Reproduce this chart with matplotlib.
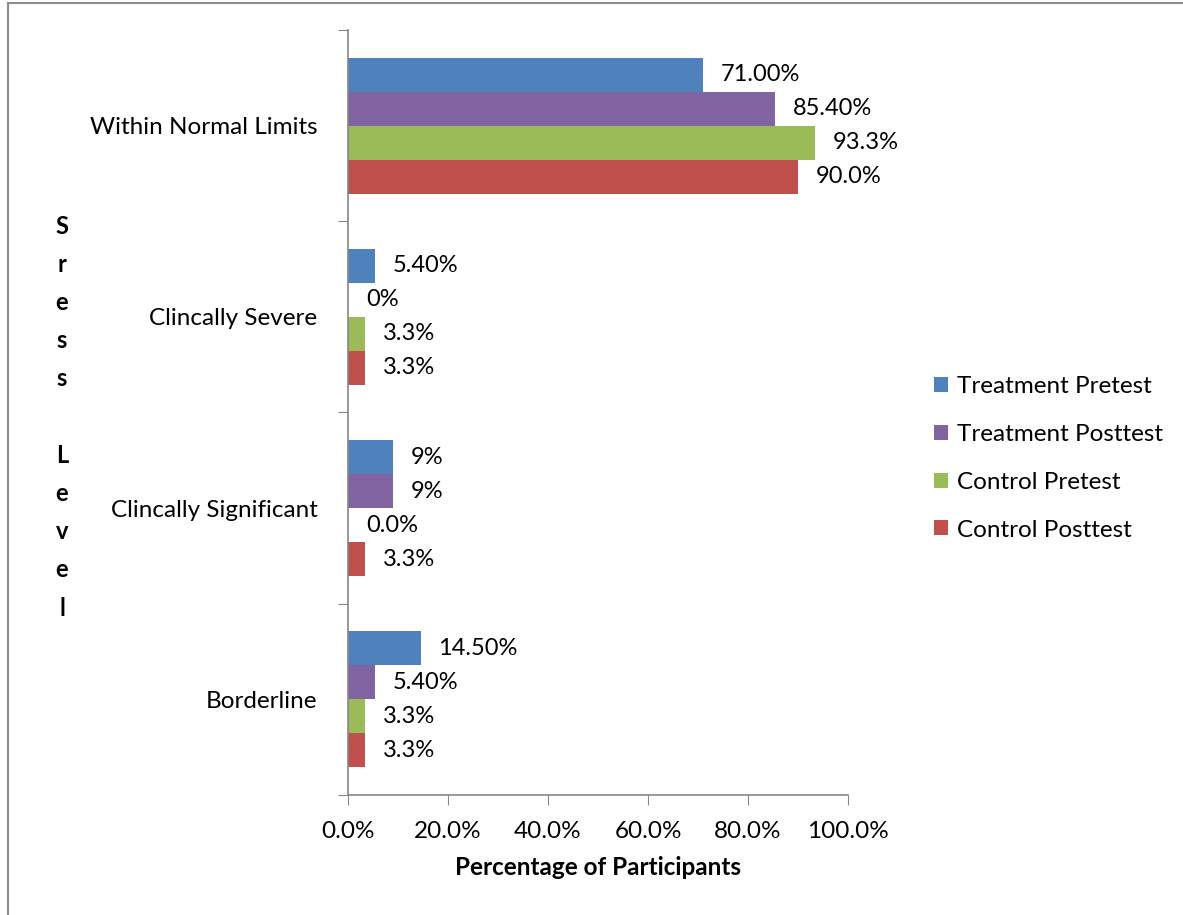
import numpy as np
import matplotlib
matplotlib.use("Agg")
import matplotlib.pyplot as plt
from matplotlib.lines import Line2D
from matplotlib.ticker import FuncFormatter

plt.rcParams['font.family'] = ['Lato', 'DejaVu Sans']

# Stress level categories, top to bottom
categories = ["Within Normal Limits", "Clincally Severe", "Clincally Significant", "Borderline"]
series = ["Treatment Pretest", "Treatment Posttest", "Control Pretest", "Control Posttest"]
colors = ["#4F81BD", "#8064A2", "#9BBB59", "#C0504D"]

# percentages per series, same order as categories
treat_pre = [71.0, 5.4, 9.0, 14.5]
treat_post = [85.4, 0.0, 9.0, 5.4]
ctrl_pre = [93.3, 3.3, 0.0, 3.3]
ctrl_post = [90.0, 3.3, 3.3, 3.3]

# label text as printed next to each bar
treat_pre_lbl = ["71.00%", "5.40%", "9%", "14.50%"]
treat_post_lbl = ["85.40%", "0%", "9%", "5.40%"]
ctrl_pre_lbl = ["93.3%", "3.3%", "0.0%", "3.3%"]
ctrl_post_lbl = ["90.0%", "3.3%", "3.3%", "3.3%"]

values = [treat_pre, treat_post, ctrl_pre, ctrl_post]
labels = [treat_pre_lbl, treat_post_lbl, ctrl_pre_lbl, ctrl_post_lbl]

fig = plt.figure(figsize=(11.83, 9.15), dpi=100)
ax = fig.add_axes([348 / 1183, 1 - 795 / 915, 500 / 1183, 765 / 915])

n = len(categories)
pos = np.arange(n)[::-1].astype(float)  # first category on top
bh = 0.178
for i, (vals, lbls) in enumerate(zip(values, labels)):
    y = pos + (1.5 - i) * bh
    ax.barh(y, vals, height=bh, color=colors[i], label=series[i], edgecolor="none")
    for yy, v, t in zip(y, vals, lbls):
        ax.text(v + 3.6, yy, t, va="center", ha="left", fontsize=17)

ax.set_xlim(0, 100)
ax.set_ylim(-0.5, n - 0.5)
ax.set_xticks(np.arange(0, 101, 20))
ax.xaxis.set_major_formatter(FuncFormatter(lambda x, p: f"{x:.1f}%"))
ax.set_yticks(np.arange(-0.5, n, 1.0))
ax.set_yticklabels([])
ax.set_yticks(pos, minor=True)
ax.set_yticklabels(categories, minor=True)
ax.tick_params(axis="y", which="minor", length=0, pad=22, labelsize=17.5)
ax.tick_params(axis="y", which="major", length=7, color="#868686", direction="out")
ax.tick_params(axis="x", length=7, color="#868686", direction="out", labelsize=17.5, pad=12)

for s in ["top", "right"]:
    ax.spines[s].set_visible(False)
for s in ["left", "bottom"]:
    ax.spines[s].set_color("#868686")
    ax.spines[s].set_linewidth(1.2)

ax.set_xlabel("Percentage of Participants", fontsize=17.5, fontweight="bold", labelpad=10)

# vertical axis title, one letter per line
fig.text(62 / 1183, 1 - 417 / 915, "S\nr\ne\ns\ns\n\nL\ne\nv\ne\nl",
         ha="center", va="center", fontsize=17, fontweight="bold", linespacing=1.80)

leg = ax.legend(loc="center left", bbox_to_anchor=(1.128, 0.44), frameon=False,
                fontsize=17.5, handlelength=0.57, handleheight=0.57, labelspacing=1.1,
                handletextpad=0.4)

# outer frame (top and left edges)
fig.add_artist(Line2D([8 / 1183, 8 / 1183], [0, 1 - 3 / 915], color="#8c8c8c", lw=1.5))
fig.add_artist(Line2D([8 / 1183, 1], [1 - 3 / 915, 1 - 3 / 915], color="#8c8c8c", lw=1.5))

fig.savefig("out.png", dpi=100)
